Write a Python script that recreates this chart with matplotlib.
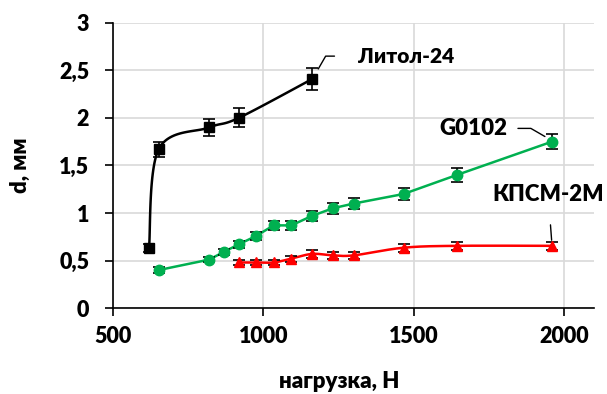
import numpy as np
import matplotlib
matplotlib.use("Agg")
import matplotlib.pyplot as plt

plt.rcParams['font.family'] = ['Lato', 'DejaVu Sans']
plt.rcParams['font.weight'] = 'heavy'

# Литол-24
litol_x = [620, 652, 820, 918, 1163]
litol_y = [0.63, 1.67, 1.90, 2.00, 2.41]
litol_err = [0.04, 0.08, 0.09, 0.10, 0.12]

# G0102
g_x = [652, 820, 868, 918, 977, 1034, 1093, 1162, 1231, 1301, 1466, 1643, 1959]
g_y = [0.40, 0.51, 0.59, 0.67, 0.76, 0.87, 0.87, 0.97, 1.05, 1.10, 1.20, 1.40, 1.75]
g_err = [0.03, 0.03, 0.03, 0.04, 0.04, 0.05, 0.05, 0.05, 0.06, 0.06, 0.06, 0.07, 0.08]

# КПСМ-2М
k_x = [918, 977, 1034, 1093, 1162, 1231, 1301, 1466, 1643, 1959]
k_y = [0.48, 0.48, 0.48, 0.52, 0.57, 0.555, 0.555, 0.635, 0.655, 0.655]
k_err = [0.03, 0.03, 0.03, 0.03, 0.04, 0.04, 0.04, 0.04, 0.04, 0.04]


def smooth(xs, ys, sx=1600.0, sy=3.0, n=30):
    # catmull-rom through the points, computed in normalised axes units
    p = np.column_stack([np.array(xs) / sx, np.array(ys) / sy])
    p = np.vstack([p[0], p, p[-1]])
    out = []
    for i in range(1, len(p) - 2):
        p0, p1, p2, p3 = p[i - 1], p[i], p[i + 1], p[i + 2]
        t = np.linspace(0, 1, n)[:, None]
        c = 0.5 * ((2 * p1) + (-p0 + p2) * t + (2 * p0 - 5 * p1 + 4 * p2 - p3) * t ** 2
                   + (-p0 + 3 * p1 - 3 * p2 + p3) * t ** 3)
        out.append(c)
    c = np.vstack(out)
    return c[:, 0] * sx, c[:, 1] * sy


fig = plt.figure(figsize=(6.07, 3.94), dpi=100)
ax = fig.add_axes([0.186, 0.218, 0.793, 0.724])

sx, sy = smooth(litol_x, litol_y)
ax.plot(sx, sy, color='black', lw=1.8, zorder=3)
ax.errorbar(litol_x, litol_y, yerr=litol_err, fmt='s', color='black', ms=7.5,
            ecolor='black', elinewidth=1.2, capsize=4.5, capthick=1.2, zorder=4)

ax.plot(g_x, g_y, color='#00b050', lw=1.8, zorder=3)
ax.errorbar(g_x, g_y, yerr=g_err, fmt='o', color='#00b050', ms=7.5,
            ecolor='black', elinewidth=1.2, capsize=4.5, capthick=1.2, zorder=4)

kx, ky = smooth(k_x, k_y)
ax.plot(kx, ky, color='#ff0000', lw=1.8, zorder=3)
ax.errorbar(k_x, k_y, yerr=k_err, fmt='^', color='#ff0000', ms=7.5,
            ecolor='black', elinewidth=1.2, capsize=4.5, capthick=1.2, zorder=4)

ax.set_xlim(500, 2100)
ax.set_ylim(0, 3)
ax.set_xticks([500, 1000, 1500, 2000])
ax.set_yticks([0, 0.5, 1, 1.5, 2, 2.5, 3])
ax.set_yticklabels(['0', '0,5', '1', '1,5', '2', '2,5', '3'])
ax.grid(True, color='#d9d9d9', lw=1.2, zorder=0)
ax.set_axisbelow(True)
for s in ['top', 'right']:
    ax.spines[s].set_visible(False)
ax.spines['left'].set_linewidth(1.2)
ax.spines['bottom'].set_linewidth(1.2)
ax.tick_params(labelsize=15.5, length=6, width=1.2)
ax.tick_params(axis='y', pad=11)
ax.tick_params(axis='x', pad=7)

ax.set_xlabel('нагрузка, Н', fontsize=16, fontweight='heavy', va='center')
ax.set_ylabel('d, мм', fontsize=16, fontweight='heavy')
ax.xaxis.set_label_coords(0.47, -0.258)
ax.yaxis.set_label_coords(-0.17, 0.5)

# labels with leader lines
ax.annotate('Литол-24', xy=(litol_x[-1] + 15, litol_y[-1] + 0.08), xytext=(1315, 2.65),
            fontsize=15, fontweight='heavy', va='center', ha='left',
            arrowprops=dict(arrowstyle='-', color='black', lw=1, shrinkA=15,
                            connectionstyle='angle,angleA=0,angleB=60,rad=0',
                            relpos=(0, 0.5)))
ax.annotate('G0102', xy=(g_x[-1] - 15, g_y[-1] + 0.04), xytext=(1697, 1.89),
            fontsize=16, fontweight='heavy', va='center', ha='center',
            arrowprops=dict(arrowstyle='-', color='black', lw=1, shrinkA=2,
                            connectionstyle='angle,angleA=0,angleB=-30,rad=0',
                            relpos=(1.12, 0.5)))
ax.annotate('КПСМ-2М', xy=(k_x[-1], k_y[-1] + 0.03), xytext=(1947, 1.19),
            fontsize=16, fontweight='heavy', va='center', ha='center',
            arrowprops=dict(arrowstyle='-', color='black', lw=1, shrinkA=12))

fig.savefig('out.png', dpi=100)
